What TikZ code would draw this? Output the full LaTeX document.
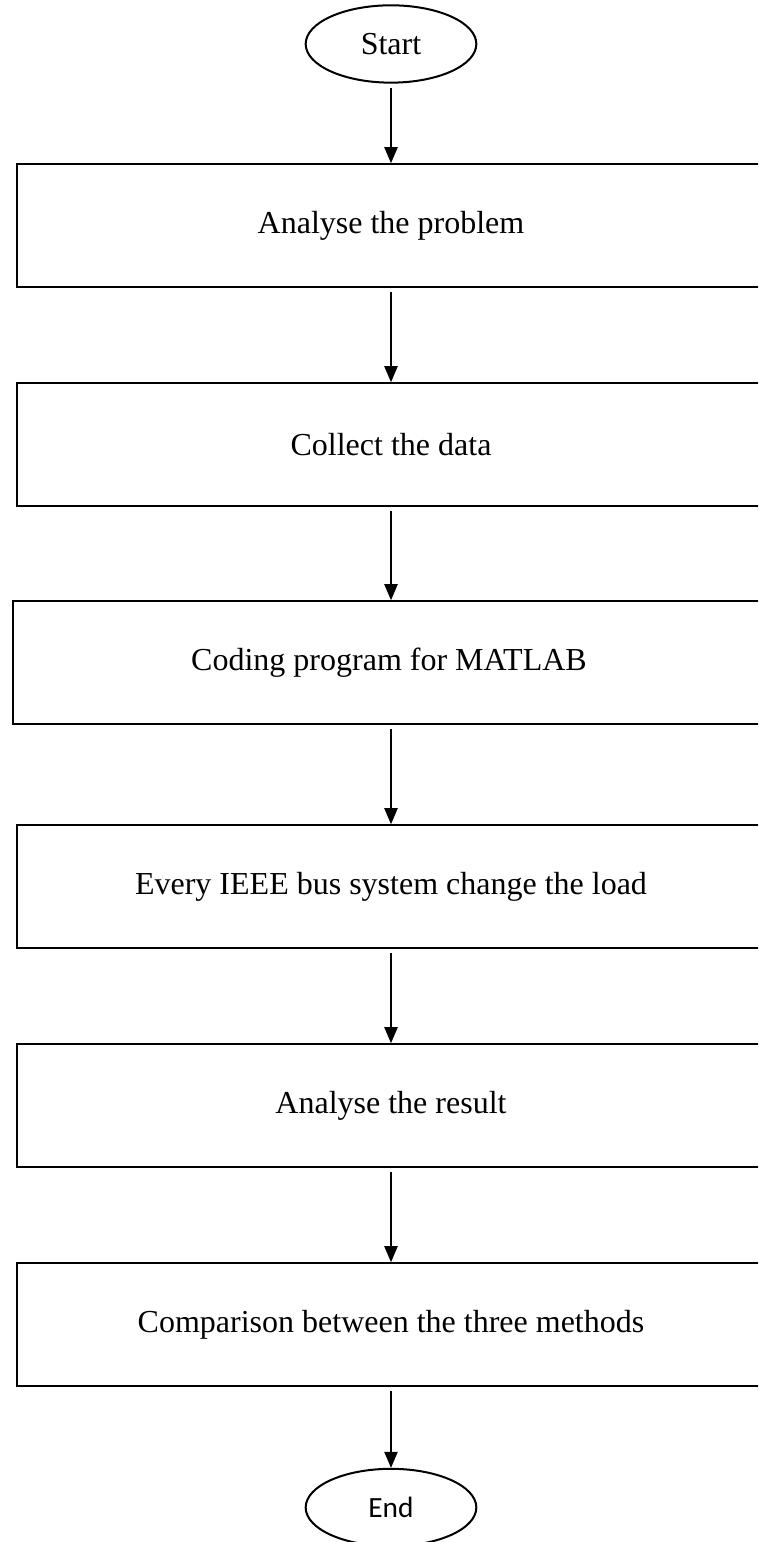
\documentclass[tikz,border=0pt]{standalone}
\usepackage{fontspec}
\setmainfont{Liberation Serif}
\newfontfamily\calibrifont{Carlito}
\usetikzlibrary{arrows.meta,shapes.geometric}
\tikzset{
    stepbox/.style={draw, line width=0.75pt, minimum width=280.5pt, minimum height=46pt, inner sep=0pt, font=\fontsize{12pt}{14pt}\selectfont},
    terminal/.style={draw, ellipse, line width=0.75pt, minimum width=64pt, minimum height=29pt, inner sep=0pt},
    flow/.style={-{Triangle[length=6pt,width=5pt]}, line width=0.5pt, shorten <=1.5pt}
}
\begin{document}
\begin{tikzpicture}[x=0.375pt, y=0.375pt]
            \useasboundingbox (0,0) rectangle (758,1542);
            \clip (0,0) rectangle (758,1542);
            \node[terminal, font=\fontsize{12pt}{14pt}\selectfont] (start) at (391,1498) {Start};
            \node[stepbox] (b1) at (391,1316.5) {Analyse the problem};
            \node[stepbox] (b2) at (391,1097.5) {Collect the data};
            \node[stepbox, minimum width=282pt] (b3) at (389,879.5) {Coding program for MATLAB};
            \node[stepbox] (b4) at (391,655.5) {Every IEEE bus system change the load};
            \node[stepbox] (b5) at (391,436.5) {Analyse the result};
            \node[stepbox] (b6) at (391,217.5) {Comparison between the three methods};
            \node[terminal, font=\calibrifont\fontsize{11pt}{13pt}\selectfont] (end) at (391,34.5) {End};
            \draw[flow] (start) -- (b1);
            \foreach \a/\b in {b1/b2, b4/b5, b5/b6, b6/end} {
                \draw[flow] (\a) -- (\b);
            }
            \draw[flow] (b2) -- (b3.north -| b2);
            \draw[flow] (b3.south -| b2) -- (b4);
        \end{tikzpicture}
\end{document}
